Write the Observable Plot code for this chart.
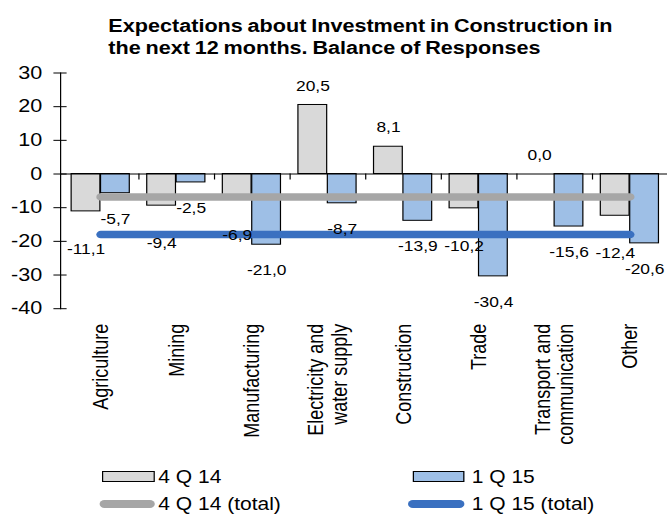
<!DOCTYPE html>
<html>
<head>
<meta charset="utf-8">
<script src="https://cdn.jsdelivr.net/npm/d3@7"></script>
<script src="https://cdn.jsdelivr.net/npm/@observablehq/plot@0.6"></script>
<style>
  html, body { margin: 0; padding: 0; background: #fff; width: 667px; height: 516px; overflow: hidden; }
  #wrap { position: absolute; left: 0; top: 0; width: 558.33px; transform: scaleX(1.2); transform-origin: 0 0;
          font-family: "Liberation Sans", Arial, sans-serif; color: #000; }
  #title { height: 60px; box-sizing: border-box; padding: 14.5px 0 0 90.3px; font-weight: bold; font-size: 18px;
           line-height: 22.6px; word-spacing: -1px; white-space: nowrap; }
  #chart svg { display: block; }
  #legend { position: relative; height: 61px; font-size: 17.5px; }
  .sw { position: absolute; box-sizing: border-box; }
  .lt { position: absolute; height: 26px; line-height: 26px; white-space: nowrap; }
</style>
</head>
<body>
<div id="wrap">
  <div id="title"></div>
  <div id="chart"></div>
  <div id="legend"></div>
</div>
<script>
// ---- data ----
const titleLines = ["Expectations about Investment in Construction in", "the next 12 months. Balance of Responses"];
const categories = ["Agriculture", "Mining", "Manufacturing", "Electricity and\nwater supply", "Construction", "Trade", "Transport and\ncommunication", "Other"];
const series = ["4 Q 14", "1 Q 15"];
const q4_14 = [-11.1, -9.4, -6.9, 20.5, 8.1, -10.2, 0.0, -12.4];
const q1_15 = [-5.7, -2.5, -21.0, -8.7, -13.9, -30.4, -15.6, -20.6];
const totalNames = ["4 Q 14 (total)", "1 Q 15 (total)"];
const totals = [-6.8, -18.0];
const yTicks = [-40, -30, -20, -10, 0, 10, 20, 30];
const yDomain = [-40, 30];

// ---- styles ----
const grayBar = "#D9D9D9", blueBar = "#9EBFE6", grayLine = "#A6A6A6", blueLine = "#3A70C0";
const W = 558.33, H = 395, mL = 50, mR = 0;
const step = (W - mL - mR) / categories.length;
const barW = 24.5;
const inset = (step - barW) / 2;
const off = barW / 2;
const fmt = v => v.toFixed(1).replace(".", ",");

document.getElementById("title").innerHTML = titleLines.join("<br>");

const rows = categories.map((c, i) => ({category: c, a: q4_14[i], b: q1_15[i]}));
const lineA = [{category: categories[0], v: totals[0]}, {category: categories[categories.length - 1], v: totals[0]}];
const lineB = [{category: categories[0], v: totals[1]}, {category: categories[categories.length - 1], v: totals[1]}];

const chart = Plot.plot({
  width: W, height: H,
  marginTop: 12.5, marginBottom: 146.8, marginLeft: mL, marginRight: mR,
  style: {fontFamily: '"Liberation Sans", Arial, sans-serif', color: "#000", background: "transparent", overflow: "visible"},
  x: {type: "band", domain: categories, padding: 0, axis: null},
  y: {domain: yDomain, axis: null},
  marks: [
    Plot.barY(rows, {x: "category", y: "a", fill: grayBar, stroke: "#000", strokeWidth: 1, insetLeft: inset, insetRight: inset, dx: -off}),
    Plot.barY(rows, {x: "category", y: "b", fill: blueBar, stroke: "#000", strokeWidth: 1, insetLeft: inset, insetRight: inset, dx: off}),
    Plot.ruleY([0], {stroke: "#000", strokeWidth: 1}),
    Plot.ruleX(rows, {x: "category", y1: 0, y2: 0, insetBottom: -6, dx: step / 2, stroke: "#000"}),
    Plot.frame({anchor: "left", stroke: "#000"}),
    Plot.axisY(yTicks, {tickSize: 11, dx: 5.5, tickPadding: 9.75, fontSize: 18, tickFormat: d => String(d), label: null, stroke: "#000"}),
    Plot.axisX({tickSize: 0, tickPadding: 15, tickRotate: -90, fontSize: 18, lineHeight: 1.07, label: null}),
    Plot.lineY(lineA, {x: "category", y: "v", stroke: grayLine, strokeWidth: 7.5, strokeLinecap: "round"}),
    Plot.lineY(lineB, {x: "category", y: "v", stroke: blueLine, strokeWidth: 7.5, strokeLinecap: "round"}),
    Plot.text(rows.filter(d => d.a < 0), {x: "category", y: "a", text: d => fmt(d.a), dx: -off, dy: 38, fontSize: 14.5, fill: "#000"}),
    Plot.text(rows.filter(d => d.a >= 0), {x: "category", y: "a", text: d => fmt(d.a), dx: -off, dy: -19, fontSize: 14.5, fill: "#000"}),
    Plot.text(rows.filter(d => d.b < 0), {x: "category", y: "b", text: d => fmt(d.b), dx: off, dy: 26, fontSize: 14.5, fill: "#000"}),
    Plot.text(rows.filter(d => d.b >= 0), {x: "category", y: "b", text: d => fmt(d.b), dx: off, dy: -19, fontSize: 14.5, fill: "#000"})
  ]
});
document.getElementById("chart").appendChild(chart);

// ---- legend ----
const legend = document.getElementById("legend");
const items = [
  {label: series[0], kind: "bar", color: grayBar, sx: 84.75, sw: 44.4, tx: 131.9, cy: 21.7},
  {label: series[1], kind: "bar", color: blueBar, sx: 343.9, sw: 43.6, tx: 393.1, cy: 21.7},
  {label: totalNames[0], kind: "line", color: grayLine, sx: 83.3, sw: 45.8, tx: 131.9, cy: 49.3},
  {label: totalNames[1], kind: "line", color: blueLine, sx: 340.3, sw: 47.2, tx: 393.1, cy: 49.3}
];
for (const it of items) {
  const s = document.createElement("div");
  s.className = "sw";
  s.style.left = it.sx + "px";
  s.style.width = it.sw + "px";
  if (it.kind === "bar") {
    s.style.height = "11px"; s.style.top = (it.cy - 5.5) + "px";
    s.style.background = it.color; s.style.border = "1.5px solid #000";
  } else {
    s.style.height = "8px"; s.style.top = (it.cy - 4) + "px";
    s.style.background = it.color; s.style.borderRadius = "4px";
  }
  legend.appendChild(s);
  const t = document.createElement("div");
  t.className = "lt";
  t.style.left = it.tx + "px";
  t.style.top = (it.cy - 13) + "px";
  t.textContent = it.label;
  legend.appendChild(t);
}
</script>
</body>
</html>
